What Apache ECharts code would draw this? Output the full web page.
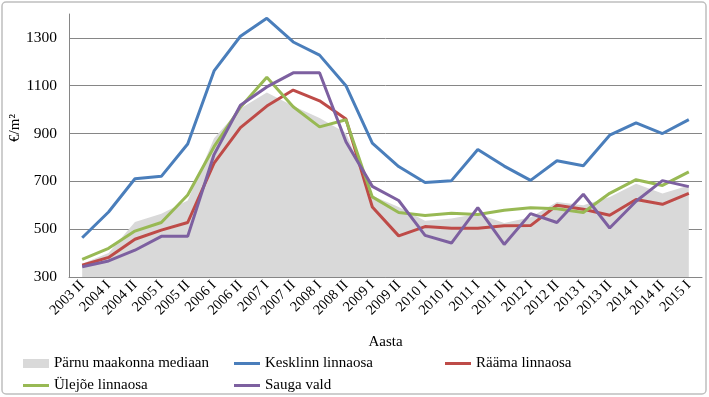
<!DOCTYPE html>
<html>
<head>
<meta charset="utf-8">
<script src="https://cdn.jsdelivr.net/npm/echarts@6/dist/echarts.min.js"></script>
<style>
  html, body { margin: 0; padding: 0; background: #fff; }
  #main { width: 709px; height: 397px; }
</style>
</head>
<body>
<div id="main"></div>
<script>
// periood (poolaasta)
const categories = ['2003 II', '2004 I', '2004 II', '2005 I', '2005 II', '2006 I', '2006 II', '2007 I',
  '2007 II', '2008 I', '2008 II', '2009 I', '2009 II', '2010 I', '2010 II', '2011 I', '2011 II',
  '2012 I', '2012 II', '2013 I', '2013 II', '2014 I', '2014 II', '2015 I'];

const parnuMediaan = [355, 400, 530, 565, 620, 880, 1005, 1072, 1015, 965, 902, 640, 593, 535, 545, 565,
  526, 550, 614, 600, 635, 690, 649, 683];
const kesklinn = [464, 572, 711, 721, 856, 1162, 1307, 1382, 1283, 1228, 1100, 860, 762, 695, 703, 833,
  764, 704, 786, 765, 893, 945, 900, 958];
const raama = [349, 382, 458, 496, 528, 776, 925, 1015, 1082, 1037, 961, 593, 472, 511, 504, 504,
  514, 515, 600, 583, 558, 624, 604, 650];
const ulejoe = [374, 420, 492, 528, 643, 845, 1010, 1135, 1012, 928, 958, 635, 570, 557, 567, 561,
  579, 590, 585, 570, 650, 707, 683, 740];
const sauga = [343, 367, 412, 470, 470, 812, 1018, 1095, 1154, 1154, 866, 679, 620, 474, 442, 590,
  436, 565, 528, 646, 505, 617, 703, 678];

const yTicks = { min: 300, max: 1400, step: 200 };

const FONT = 'Liberation Serif';
const names = ['Pärnu maakonna mediaan', 'Kesklinn linnaosa', 'Rääma linnaosa', 'Ülejõe linnaosa', 'Sauga vald'];
const colors = ['#d9d9d9', '#4a7ebb', '#be4b48', '#98b954', '#7d60a0'];

function lineSeries(name, data, color) {
  return {
    name: name, type: 'line', data: data, symbol: 'none', smooth: false,
    lineStyle: { color: color, width: 3 }, itemStyle: { color: color }, z: 3
  };
}

function legendAt(name, left, top, isArea) {
  return {
    data: [name], left: left, top: top, icon: 'rect',
    itemWidth: 26, itemHeight: isArea ? 9 : 3, itemGap: 2,
    textStyle: { fontFamily: FONT, fontSize: 15, color: '#000' }
  };
}

const chart = echarts.init(document.getElementById('main'));
chart.setOption({
  animation: false,
  graphic: [
    { type: 'rect', shape: { x: 2, y: 2, width: 704, height: 392, r: 4 },
      style: { fill: 'none', stroke: '#bfbfbf', lineWidth: 1.5 }, silent: true },
    { type: 'text', x: 15, y: 128, rotation: Math.PI / 2, style: {
        text: '€/m²', font: '15px "Liberation Serif"', fill: '#000',
        align: 'center', verticalAlign: 'middle' } }
  ],
  grid: { left: 69, right: 7, top: 14, bottom: 120 },
  legend: [
    legendAt(names[0], 18, 351, true),
    legendAt(names[1], 229, 351, false),
    legendAt(names[2], 440, 351, false),
    legendAt(names[3], 18, 373, false),
    legendAt(names[4], 229, 373, false)
  ],
  xAxis: {
    type: 'category', data: categories, boundaryGap: true,
    name: 'Aasta', nameLocation: 'middle', nameGap: 58,
    nameTextStyle: { fontFamily: FONT, fontSize: 15, color: '#000' },
    axisLine: { lineStyle: { color: '#868686', width: 1 } },
    axisTick: { show: false },
    axisLabel: { interval: 0, rotate: 45, margin: 6, fontFamily: FONT, fontSize: 14.5, color: '#000' }
  },
  yAxis: {
    type: 'value', min: yTicks.min, max: yTicks.max, interval: yTicks.step,
    axisLine: { show: true, lineStyle: { color: '#868686', width: 1 } },
    axisTick: { show: false },
    axisLabel: { showMaxLabel: false, margin: 12, fontFamily: FONT, fontSize: 15.5, color: '#000',
      formatter: function (v) { return String(v); } },
    splitLine: { showMaxLine: false, lineStyle: { color: '#868686', width: 1 } }
  },
  series: [
    {
      name: names[0], type: 'line', data: parnuMediaan, symbol: 'none',
      lineStyle: { width: 0 }, itemStyle: { color: colors[0] },
      areaStyle: { color: colors[0], opacity: 1, origin: 'start' }, z: 1
    },
    lineSeries(names[1], kesklinn, colors[1]),
    lineSeries(names[2], raama, colors[2]),
    lineSeries(names[3], ulejoe, colors[3]),
    lineSeries(names[4], sauga, colors[4])
  ]
});
</script>
</body>
</html>
